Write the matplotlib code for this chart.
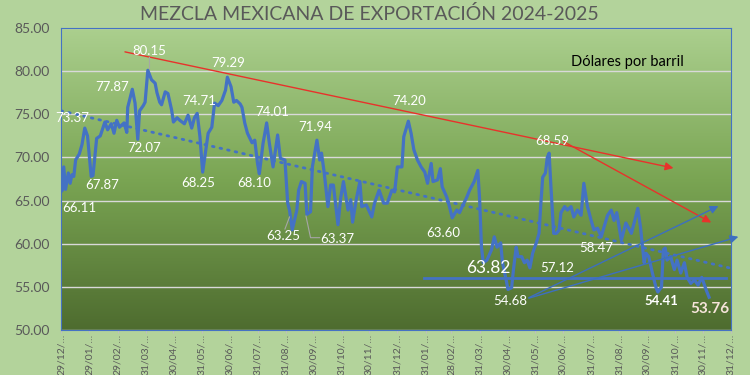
import numpy as np
import pandas as pd
import matplotlib
matplotlib.use("Agg")
import matplotlib.pyplot as plt
import matplotlib.dates as mdates
from matplotlib.colors import LinearSegmentedColormap

plt.rcParams['font.family'] = ['Lato', 'DejaVu Sans']

# Mezcla mexicana, dolares por barril (dias desde 29/12/2023)
start = pd.Timestamp('2023-12-29')
days = [0, 1, 3, 5, 8, 10, 12, 14, 16, 20, 23, 26, 29, 33, 35, 39, 43, 48, 51, 55,
        58, 61, 64, 69, 72, 73, 78, 81, 84, 86, 90, 92, 95, 99, 103, 105, 108, 110, 114, 117,
        121, 123, 127, 130, 135, 139, 143, 146, 149, 152, 155, 161, 165, 168, 172, 176, 180, 182, 186, 189,
        192, 196, 198, 201, 204, 209, 212, 215, 217, 221, 225, 228, 232, 237, 240, 245, 248, 250, 253, 258,
        260, 263, 267, 269, 273, 275, 280, 283, 285, 288, 292, 295, 298, 303, 306, 309, 314, 317, 319, 323,
        327, 329, 334, 340, 343, 348, 353, 357, 362, 365, 368, 373, 375, 378, 380, 383, 386, 390, 394, 398,
        401, 405, 407, 412, 415, 417, 422, 425, 428, 433, 436, 439, 444, 447, 452, 456, 458, 460, 462, 466,
        471, 474, 477, 481, 483, 487, 489, 493, 495, 498, 500, 504, 507, 510, 513, 516, 520, 523, 525, 527,
        530, 532, 534, 536, 539, 542, 545, 547, 551, 554, 558, 561, 565, 569, 572, 576, 580, 583, 587, 591,
        594, 598, 602, 605, 608, 613, 618, 624, 627, 631, 634, 638, 640, 643, 647, 651, 653, 657, 659, 661,
        663, 667, 671, 674, 678, 682, 685, 689, 693, 697, 701, 706, 709]
prices = [67.6, 66.1, 68.9, 66.3, 68.2, 67.0, 68.0, 67.8, 69.7, 70.4, 71.5, 73.4, 72.5, 67.8, 67.9, 72.2, 72.5, 74.1, 73.2, 73.9,
          72.8, 74.3, 73.5, 74.0, 72.9, 75.8, 77.9, 76.3, 72.1, 75.4, 76.0, 76.4, 80.1, 79.0, 78.6, 77.5, 76.4, 76.1, 77.6, 77.4,
          75.5, 74.1, 74.6, 74.3, 73.9, 74.9, 73.4, 74.6, 75.1, 72.4, 68.3, 72.8, 73.5, 76.3, 76.0, 76.6, 77.8, 79.3, 78.2, 76.4,
          76.6, 76.2, 75.8, 74.0, 72.8, 71.7, 72.0, 69.3, 68.1, 71.6, 74.0, 71.6, 68.9, 72.6, 69.9, 69.7, 64.7, 63.9, 61.6, 63.9,
          66.2, 67.2, 67.0, 63.4, 63.7, 68.9, 72.0, 69.7, 70.5, 68.2, 64.3, 66.8, 66.8, 62.2, 65.3, 67.2, 63.9, 65.1, 62.5, 65.1,
          67.2, 64.3, 64.5, 63.1, 64.7, 66.2, 64.7, 64.7, 66.2, 66.0, 68.9, 68.9, 72.4, 73.5, 74.2, 72.8, 70.9, 69.7, 68.9, 68.3,
          67.0, 69.3, 67.2, 67.4, 68.7, 66.6, 65.4, 64.3, 63.0, 63.9, 63.6, 64.3, 65.4, 66.2, 67.2, 68.5, 65.1, 59.6, 57.8, 58.1,
          59.3, 60.8, 59.6, 60.1, 57.8, 55.8, 54.7, 54.9, 57.0, 59.6, 58.5, 58.5, 57.8, 58.1, 57.2, 58.9, 60.1, 61.2, 64.7, 67.7,
          68.2, 70.0, 70.5, 66.6, 61.2, 61.2, 61.6, 63.6, 64.3, 63.9, 64.3, 63.1, 63.9, 63.3, 67.0, 64.3, 62.7, 61.6, 61.8, 60.8,
          61.9, 63.3, 63.9, 62.7, 63.6, 60.4, 62.4, 61.2, 62.4, 64.1, 61.9, 57.8, 58.9, 58.5, 56.6, 54.9, 54.4, 55.0, 59.3, 59.5,
          58.1, 58.5, 57.0, 58.1, 56.6, 57.8, 56.1, 55.4, 55.8, 55.2, 56.1, 54.6, 53.8]

# etiquetas de datos
label_text = ['73.37', '66.11', '67.87', '77.87', '72.07', '80.15', '74.71', '68.25', '79.29', '74.01',
              '68.10', '71.94', '63.25', '63.37', '74.20', '63.60', '63.82', '54.68', '57.12', '68.59',
              '58.47', '54.41', '53.76']
label_day = [12, 20, 45, 56, 91, 97, 151, 150, 183, 231,
             211, 278, 243, 302, 381, 418, 467, 491, 543, 537,
             585, 657, 710]
label_y = [74.6, 64.1, 66.8, 78.2, 71.1, 82.3, 76.5, 67.0, 80.9, 75.3,
           67.0, 73.5, 60.9, 60.5, 76.5, 61.2, 57.2, 53.4, 57.2, 71.9,
           59.5, 53.4, 52.4]

tick_days = [0, 31, 62, 93, 123, 154, 184, 215, 246, 276, 307, 337, 368,
             399, 427, 458, 488, 519, 549, 580, 611, 641, 672, 702, 733]
tick_labels = ['29/12/…', '29/01/…', '29/02/…', '31/03/…', '30/04/…', '31/05/…', '30/06/…',
               '31/07/…', '31/08/…', '30/09/…', '31/10/…', '30/11/…', '31/12/…', '31/01/…',
               '28/02/…', '31/03/…', '30/04/…', '31/05/…', '30/06/…', '31/07/…', '31/08/…',
               '30/09/…', '31/10/…', '30/11/…', '31/12/…']

# flechas (inicio, fin) en dias / dolares
red_arrows = [((67, 82.3), (673, 68.7)), ((547, 72.0), (714, 62.3))]
blue_arrows = [((509, 53.6), (722, 64.5)), ((509, 53.6), (744, 60.9))]
support_days = [397, 728]
support_level = 56.0

def d(x):
    return start + pd.to_timedelta(np.asarray(x), unit='D')

dates = d(days)
blue = '#4472C4'
grey = '#595959'

fig = plt.figure(figsize=(7.5, 3.75), dpi=100, facecolor='#b3d39b')
ax = fig.add_axes([61/750, 45/375, 670/750, 302/375])

# fondo degradado
grad = LinearSegmentedColormap.from_list('g', ['#4e6c2f', '#7aa553', '#abcf8e'])
ax.imshow(np.linspace(0, 1, 256).reshape(-1, 1), cmap=grad, aspect='auto', origin='lower',
          extent=[mdates.date2num(d(0)), mdates.date2num(d(733)), 50, 85], zorder=0)

ax.set_ylim(50, 85)
ax.set_xlim(d(0), d(733))
ax.set_yticks(np.arange(50, 86, 5))
ax.set_yticklabels([f'{v:.2f}' for v in np.arange(50, 86, 5)], color=grey, fontsize=10)
ax.grid(axis='y', color='#d9d9d9', lw=1, zorder=1)
ax.set_xticks(d(tick_days))
ax.set_xticklabels(tick_labels, rotation=90, color=grey, fontsize=7.5, va='top')
ax.tick_params(axis='x', length=2, color='#bfbfbf', pad=1)
ax.tick_params(axis='y', length=0, pad=8)
for s in ax.spines.values():
    s.set_color(blue)
    s.set_linewidth(0.8)

# serie y tendencia
ax.plot(dates, prices, color=blue, lw=2.3, zorder=3)
coef = np.polyfit(days, prices, 1)
trend_x = np.array([0, 733])
ax.plot(d(trend_x), np.polyval(coef, trend_x), color=blue, lw=2, ls=(0, (0.6, 2.2)),
        dash_capstyle='round', zorder=2)

# soporte horizontal
ax.plot(d(support_days), [support_level, support_level], color=blue, lw=2, zorder=3)

for (x0, y0), (x1, y1) in red_arrows:
    ax.annotate('', xy=(d(x1), y1), xytext=(d(x0), y0),
                arrowprops=dict(arrowstyle='-|>', color='#e8322b', lw=1, mutation_scale=12), zorder=4)
for (x0, y0), (x1, y1) in blue_arrows:
    ax.annotate('', xy=(d(x1), y1), xytext=(d(x0), y0), annotation_clip=False,
                arrowprops=dict(arrowstyle='-|>', color='#3d6fc0', lw=1, mutation_scale=12), zorder=4)

# lineas guia de etiquetas
ax.plot(d([96, 96]), [81.6, 80.4], color='#a6a6a6', lw=0.8, zorder=4)
ax.plot(d([245, 250]), [61.7, 63.1], color='#a6a6a6', lw=0.8, zorder=4)
ax.plot(d([283, 273, 268]), [60.7, 60.7, 63.2], color='#a6a6a6', lw=0.8, zorder=4)

for t, xd, yv in zip(label_text, label_day, label_y):
    kw = dict(color='white', fontsize=9.5)
    if t == '63.82':
        kw['fontsize'] = 12.5
    if t == '54.41':
        kw['fontweight'] = 'bold'
    if t == '53.76':
        kw.update(fontweight='bold', color='#f6e4da', fontsize=11)
    ax.text(d(xd), yv, t, ha='center', va='center', zorder=5, clip_on=False, **kw)

ax.text(0.845, 0.887, 'Dólares por barril', transform=ax.transAxes, ha='center', va='center',
        fontsize=10.5, color='black')
fig.text(0.493, 0.962, 'MEZCLA MEXICANA DE EXPORTACIÓN 2024-2025', ha='center', va='center',
         fontsize=14, color=grey)

fig.savefig('out.png', dpi=100, facecolor=fig.get_facecolor())
